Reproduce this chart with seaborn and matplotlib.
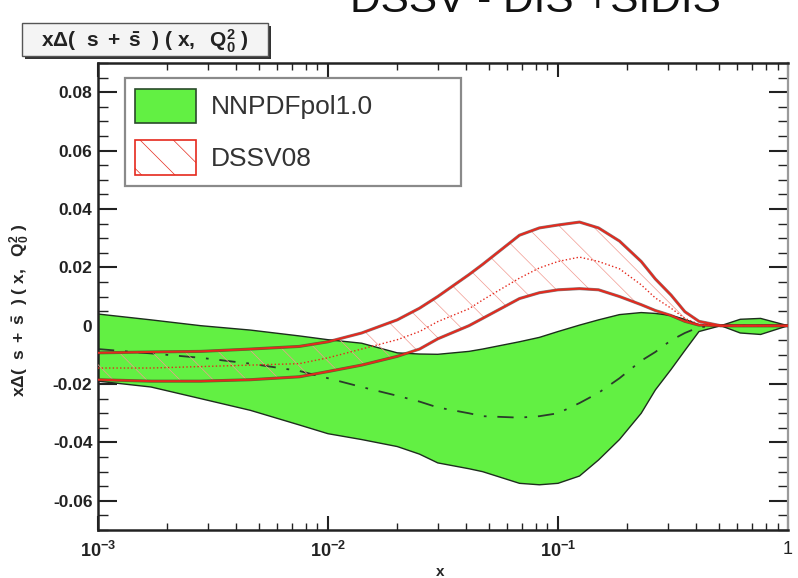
import numpy as np
import pandas as pd
import matplotlib
matplotlib.use("Agg")
import matplotlib.pyplot as plt
import seaborn as sns
from matplotlib.patches import Patch, Rectangle
from matplotlib.ticker import FixedLocator, MultipleLocator, LogLocator, NullFormatter

# ---------------- data ----------------
x = [0.001, 0.0017, 0.0028, 0.0046, 0.0075, 0.010, 0.014, 0.020, 0.025, 0.030, 0.041, 0.047,
     0.068, 0.083, 0.10, 0.124, 0.15, 0.185, 0.23, 0.265, 0.31, 0.356, 0.41, 0.51, 0.62, 0.76, 1.0]

nnpdf_up = [0.004, 0.002, 0.0, -0.0015, -0.0035, -0.0048, -0.006, -0.0093, -0.0097, -0.0098, -0.0088, -0.008,
            -0.0055, -0.004, -0.002, 0.0002, 0.002, 0.0038, 0.0045, 0.0042, 0.0035, 0.0022, 0.0003, 0.0, 0.0022, 0.0025, 0.0]
nnpdf_lo = [-0.019, -0.021, -0.025, -0.029, -0.034, -0.037, -0.039, -0.0414, -0.044, -0.047, -0.049, -0.050,
            -0.054, -0.0545, -0.054, -0.0515, -0.046, -0.039, -0.030, -0.022, -0.015, -0.0085, -0.002, 0.0, -0.0025, -0.003, 0.0]
nnpdf_mid = [-0.008, -0.0095, -0.011, -0.013, -0.0155, -0.018, -0.021, -0.024, -0.026, -0.028, -0.030, -0.031,
             -0.0315, -0.031, -0.030, -0.0265, -0.023, -0.018, -0.012, -0.009, -0.005, -0.0025, -0.0005, 0.0, 0.0, 0.0, 0.0]

dssv_up = [-0.0093, -0.009, -0.0088, -0.008, -0.0071, -0.0055, -0.0025, 0.002, 0.006, 0.010, 0.0175, 0.021,
           0.031, 0.0335, 0.0345, 0.0355, 0.0335, 0.029, 0.022, 0.016, 0.0105, 0.0048, 0.0015, 0.0, 0.0, 0.0, 0.0]
dssv_mid = [-0.0145, -0.0145, -0.014, -0.0135, -0.013, -0.011, -0.008, -0.0048, -0.002, 0.0014, 0.0058, 0.0088,
            0.0163, 0.0198, 0.022, 0.0235, 0.022, 0.0195, 0.014, 0.0095, 0.006, 0.0025, 0.0005, 0.0, 0.0, 0.0, 0.0]
dssv_lo = [-0.0185, -0.019, -0.019, -0.0185, -0.0175, -0.0157, -0.0135, -0.0105, -0.008, -0.0045, 0.0, 0.0025,
           0.0093, 0.0113, 0.0123, 0.0127, 0.0123, 0.010, 0.0072, 0.0052, 0.0035, 0.0015, 0.0002, 0.0, 0.0, 0.0, 0.0]

yticks = [-0.06, -0.04, -0.02, 0.0, 0.02, 0.04, 0.06, 0.08]
ytick_labels = ["-0.06", "-0.04", "-0.02", "0", "0.02", "0.04", "0.06", "0.08"]
xticks = [0.001, 0.01, 0.1, 1.0]
xtick_labels = [r"$10^{-3}$", r"$10^{-2}$", r"$10^{-1}$", "1"]
series_labels = ["NNPDFpol1.0", "DSSV08"]

# ---------------- style ----------------
sns.set_theme(style="ticks")
plt.rcParams["font.family"] = ["Liberation Sans", "DejaVu Sans"]
plt.rcParams["mathtext.fontset"] = "custom"
plt.rcParams["mathtext.rm"] = "Liberation Sans"
plt.rcParams["mathtext.bf"] = "Liberation Sans:bold"
plt.rcParams["mathtext.it"] = "Liberation Sans:italic"
plt.rcParams["mathtext.default"] = "bf"
plt.rcParams["hatch.linewidth"] = 0.5

GREEN = "#62f043"
RED = "#e5291d"

df = pd.DataFrame({"x": x, "nn_mid": nnpdf_mid, "ds_up": dssv_up,
                   "ds_mid": dssv_mid, "ds_lo": dssv_lo,
                   "nn_up": nnpdf_up, "nn_lo": nnpdf_lo})

fig = plt.figure(figsize=(7.98, 5.78), dpi=100)
ax = fig.add_axes([0.1228, 0.083, 0.8647, 0.808])
ax.set_xscale("log")

# NNPDF band
ax.fill_between(df["x"], df["nn_lo"], df["nn_up"], facecolor=GREEN, edgecolor="none", zorder=1)
sns.lineplot(data=df, x="x", y="nn_up", ax=ax, color="#1d2d1d", lw=1.0, zorder=2)
sns.lineplot(data=df, x="x", y="nn_lo", ax=ax, color="#1d2d1d", lw=1.0, zorder=2)
sns.lineplot(data=df, x="x", y="nn_mid", ax=ax, color="#2b3b2b", lw=1.3, zorder=2,
             linestyle=(0, (9, 6, 1.5, 6)))

# DSSV band
ax.fill_between(df["x"], df["ds_lo"], df["ds_up"], facecolor="none", edgecolor="#f19a90",
                hatch="\\", linewidth=0, zorder=3)
for col in ["ds_up", "ds_lo"]:
    sns.lineplot(data=df, x="x", y=col, ax=ax, color="#3a2020", lw=2.2, alpha=0.6, zorder=4)
    sns.lineplot(data=df, x="x", y=col, ax=ax, color=RED, lw=1.4, zorder=5)
sns.lineplot(data=df, x="x", y="ds_mid", ax=ax, color=RED, lw=1.0, linestyle=":", zorder=5)

ax.set_xlim(1e-3, 1.0)
ax.set_ylim(-0.07, 0.09)

ax.xaxis.set_major_locator(FixedLocator(xticks))
ax.set_xticklabels(xtick_labels)
ax.xaxis.set_minor_locator(LogLocator(base=10, subs=np.arange(2, 10)))
ax.xaxis.set_minor_formatter(NullFormatter())
ax.set_yticks(yticks)
ax.set_yticklabels(ytick_labels)
ax.yaxis.set_minor_locator(MultipleLocator(0.005))

ax.tick_params(axis="both", which="both", direction="in", top=True, right=True,
               colors="#222222", labelcolor="#222222")
ax.tick_params(axis="y", which="major", length=14, width=1.5, labelsize=12.5, pad=4)
ax.tick_params(axis="y", which="minor", length=7, width=1.0)
ax.tick_params(axis="x", which="major", length=10, width=1.5, labelsize=13, pad=8)
ax.tick_params(axis="x", which="minor", length=5, width=1.0)
for lab in ax.get_yticklabels():
    lab.set_fontweight("bold")
for sp in ["left", "bottom", "top"]:
    ax.spines[sp].set_linewidth(1.8)
    ax.spines[sp].set_color("#222222")
ax.spines["right"].set_linewidth(1.6)
ax.spines["right"].set_color("#9a9a9a")

ax.set_xlabel("x", fontsize=11, fontweight="bold")
ax.xaxis.set_label_coords(0.496, -0.075)
ax.set_ylabel(r"$x\Delta(\ \ s\ +\ \bar{s}\ \ )\ (\ x,\ \ Q_0^2\ )$", fontsize=12.5)
ax.yaxis.set_label_coords(-0.095, 0.47)

# legend
handles = [Patch(facecolor=GREEN, edgecolor="#2a4a2a", lw=1.2),
           Patch(facecolor="white", edgecolor=RED, hatch="\\", lw=1.2)]
leg = ax.legend(handles, series_labels, loc="upper left",
                bbox_to_anchor=(0.039, 0.696, 0.487, 0.272), mode="expand",
                borderaxespad=0, fontsize=19, handlelength=2.3, handleheight=1.65,
                handletextpad=0.55, labelspacing=0.65, borderpad=0.4,
                fancybox=False, framealpha=1, edgecolor="#8a8a8a")
leg.get_frame().set_linewidth(1.6)
for t in leg.get_texts():
    t.set_color("#333333")

# title (partly cut off at the top)
fig.text(0.4386, 0.979, "DSSV - DIS +SIDIS", fontsize=30.5, ha="left", va="baseline",
         color="#111111")

# boxed label top-left
fig.patches.append(Rectangle((0.031, 0.898), 0.309, 0.057, transform=fig.transFigure,
                             facecolor="#333333", edgecolor="none", zorder=1))
fig.patches.append(Rectangle((0.027, 0.903), 0.309, 0.057, transform=fig.transFigure,
                             facecolor="#f4f4f4", edgecolor="#555555", lw=1.0, zorder=2))
fig.text(0.181, 0.929, r"$x\Delta(\ \ s\ +\ \bar{s}\ \ )\ (\ x,\ \ Q_0^2\ )$", fontsize=15,
         ha="center", va="center", color="#222222", zorder=3)

fig.savefig("out.png", dpi=100)
